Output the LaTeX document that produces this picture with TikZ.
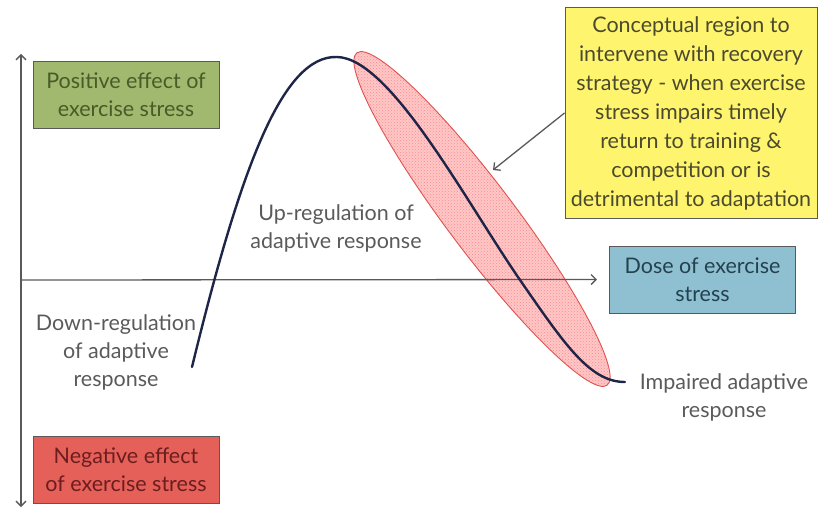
\documentclass[tikz,border=0pt]{standalone}
\usepackage{fontspec}
\setmainfont{Lato}
\usetikzlibrary{arrows.meta, positioning, patterns}

\definecolor{posfill}{HTML}{A0B96E}
\definecolor{postext}{HTML}{4A5A28}
\definecolor{negfill}{HTML}{E6605A}
\definecolor{negtext}{HTML}{6A1E1E}
\definecolor{dosefill}{HTML}{8FC0D2}
\definecolor{dosetext}{HTML}{24414E}
\definecolor{notefill}{HTML}{FFF46E}
\definecolor{notetext}{HTML}{4A4A2E}
\definecolor{labelgray}{HTML}{5A5A5A}
\definecolor{curvenavy}{HTML}{1E2548}
\definecolor{regionred}{HTML}{E0524F}

\begin{document}
\begin{tikzpicture}[x=1pt, y=-1pt,
    % Styles
    effectbox/.style={draw=black!65, line width=1pt, minimum width=186pt, minimum height=67pt,
                      align=center, inner sep=2pt, font=\fontsize{21.5}{28}\selectfont},
    notebox/.style={draw=black!65, line width=1pt, minimum width=252pt, minimum height=210pt,
                    align=center, inner sep=2pt, font=\fontsize{21.5}{29}\selectfont},
    labeltext/.style={align=center, text=labelgray, inner sep=1pt, font=\fontsize{21.5}{28}\selectfont},
    axis/.style={draw=black!65, line width=1.3pt, arrows={Straight Barb[length=5pt, width=10pt]-Straight Barb[length=5pt, width=10pt]}},
    pointer/.style={draw=black!65, line width=1.3pt, -{Straight Barb[length=5pt, width=10pt]}},
    response/.style={draw=curvenavy, line width=2.4pt, line cap=round},
    region/.style={draw=regionred, line width=0.9pt, preaction={fill=red!22},
                   pattern=crosshatch dots, pattern color=red!45}
]
    \useasboundingbox (0,0) rectangle (818,508);

    % Axis ends
    \coordinate (ytop) at (21,54);
    \coordinate (ybot) at (21,507);
    \coordinate (origin) at (21,280);

    % Effect boxes
    \node[effectbox, fill=posfill, text=postext] (positive) at (126,95) {Positive effect of\\exercise stress};
    \node[effectbox, fill=negfill, text=negtext] (negative) at (126,470) {Negative effect\\of exercise stress};

    % Dose box
    \node[effectbox, fill=dosefill, text=dosetext] (dose) at (702.5,279.5) {Dose of exercise\\stress};

    % Conceptual region note
    \node[notebox, fill=notefill, text=notetext] (concept) at (691,113)
        {Conceptual region to\\intervene with recovery\\strategy - when exercise\\stress impairs timely\\return to training \&\\competition or is\\detrimental to adaptation};

    % Shaded region around the falling side
    \path[region, rotate around={-53:(482,219)}] (482,219) ellipse [x radius=208, y radius=34];

    % Axes
    \draw[axis] (ybot) -- (ytop);
    \draw[axis, arrows={-Straight Barb[length=5pt, width=10pt]}, shorten >=12pt] (origin) -- (dose.west);

    % Dose-response curve
    \draw[response] (192,367) .. controls (240,170) and (282,55) .. (337,57)
        .. controls (390,58) and (465,200) .. (520,280)
        .. controls (565,345) and (590,382) .. (625,382);

    % Labels
    \node[labeltext] (uplabel) at (336,228) {Up-regulation of\\adaptive response};
    \node[labeltext] (downlabel) at (116,352) {Down-regulation\\of adaptive\\response};
    \node[labeltext] (impairedlabel) at (724,397) {Impaired adaptive\\response};

    % Pointer to the region
    \coordinate (regiontip) at (493,170);
    \draw[pointer] (concept.west) -- (regiontip);
\end{tikzpicture}
\end{document}
